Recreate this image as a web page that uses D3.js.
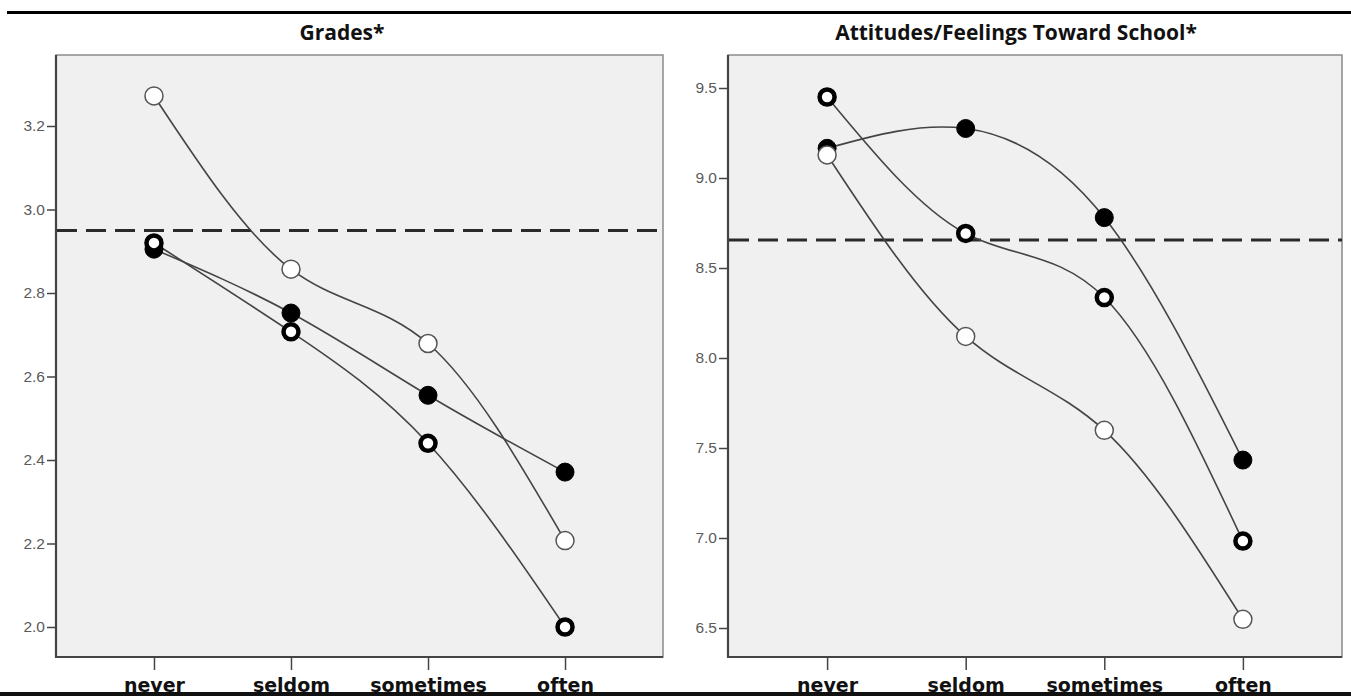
<!DOCTYPE html>
<html><head><meta charset="utf-8">
<script src="https://cdn.jsdelivr.net/npm/d3@7"></script>
<style>html,body{margin:0;padding:0;background:#fff;}svg{display:block;}</style>
</head><body>
<svg id="c" width="1351" height="696"></svg>
<script>
const categories = ["never", "seldom", "sometimes", "often"];

// Grades panel
const gradesFilled = [2.905, 2.752, 2.555, 2.371];
const gradesRing   = [2.920, 2.707, 2.440, 2.000];
const gradesOpen   = [3.272, 2.857, 2.679, 2.207];
const gradesRef    = 2.95;
const gradesTicks  = [2.0, 2.2, 2.4, 2.6, 2.8, 3.0, 3.2];

// Attitudes panel
const attFilled = [9.165, 9.275, 8.780, 7.433];
const attRing   = [9.450, 8.692, 8.336, 6.983];
const attOpen   = [9.128, 8.120, 7.598, 6.548];
const attRef    = 8.655;
const attTicks  = [6.5, 7.0, 7.5, 8.0, 8.5, 9.0, 9.5];

const titles = ["Grades*", "Attitudes/Feelings Toward School*"];

const svg = d3.select("#c");

// top rule
svg.append("line").attr("x1",7).attr("x2",1351).attr("y1",12.5).attr("y2",12.5).attr("stroke","#000").attr("stroke-width",3);

function panel(cfg){
  const {x0,x1,y0,y1,domain,yr,ticks,fmt,series,ref,title,titleX} = cfg;
  const g = svg.append("g");
  const x = d3.scalePoint().domain(categories).range([x0,x1]).padding(0.715);
  const y = d3.scaleLinear().domain(domain).range(yr);

  g.append("rect").attr("x",x0).attr("y",y0).attr("width",x1-x0).attr("height",y1-y0)
    .attr("fill","#f0f0f0").attr("stroke","#8a8a8a").attr("stroke-width",1.5);

  // y axis
  const ya = g.append("g").attr("transform",`translate(${x0},0)`)
    .call(d3.axisLeft(y).tickValues(ticks).tickFormat(d3.format(fmt)).tickSize(9).tickSizeOuter(0));
  ya.select(".domain").remove();
  ya.selectAll(".tick line").attr("stroke","#444").attr("stroke-width",1.5);
  ya.selectAll(".tick text").attr("font-family","Liberation Sans, Arial, sans-serif").attr("font-size",15.5)
    .attr("fill","#5a5a5a").attr("x",-11);

  // x axis
  const xa = g.append("g").attr("transform",`translate(0,${y1})`)
    .call(d3.axisBottom(x).tickSize(13).tickSizeOuter(0));
  xa.select(".domain").remove();
  xa.selectAll(".tick line").attr("stroke","#444").attr("stroke-width",1.5);
  xa.selectAll(".tick text").attr("font-family","DejaVu Sans, Verdana, sans-serif").attr("font-weight","bold")
    .attr("font-size",19).attr("fill","#111").attr("dy",0).attr("y",35);

  // axis lines (darker left & bottom)
  g.append("line").attr("x1",x0).attr("x2",x0).attr("y1",y0).attr("y2",y1+1).attr("stroke","#444").attr("stroke-width",2.2);
  g.append("line").attr("x1",x0).attr("x2",x1).attr("y1",y1).attr("y2",y1).attr("stroke","#444").attr("stroke-width",2.2);

  // reference line
  g.append("line").attr("x1",x0+1).attr("x2",x1).attr("y1",y(ref)).attr("y2",y(ref))
    .attr("stroke","#2a2a2a").attr("stroke-width",3).attr("stroke-dasharray","20,9");

  const line = d3.line().x((d,i)=>x(categories[i])).y(d=>y(d)).curve(d3.curveNatural);
  series.forEach(s=>{
    g.append("path").attr("d",line(s.values)).attr("fill","none").attr("stroke","#444").attr("stroke-width",1.6);
  });
  series.forEach(s=>{
    g.selectAll(null).data(s.values).enter().append("circle")
      .attr("cx",(d,i)=>x(categories[i])).attr("cy",d=>y(d))
      .attr("r",s.type==="ring"?7.5:9)
      .attr("fill",s.type==="filled"?"#000":"#fff")
      .attr("stroke",s.type==="open"?"#555":"#000")
      .attr("stroke-width",s.type==="ring"?4.5:(s.type==="open"?1.5:1));
  });

  svg.append("text").attr("x",titleX).attr("y",40).attr("text-anchor","middle")
    .attr("font-family","Open Sans, sans-serif").attr("font-weight","bold").attr("font-size",21)
    .attr("fill","#111").text(title);
}

panel({x0:56,x1:663,y0:55,y1:657,domain:[2.0,3.2],yr:[627,126],ticks:gradesTicks,fmt:".1f",
  series:[{type:"filled",values:gradesFilled},{type:"ring",values:gradesRing},{type:"open",values:gradesOpen}],
  ref:gradesRef,title:titles[0],titleX:342});
panel({x0:728,x1:1342,y0:55,y1:657,domain:[6.5,9.5],yr:[628,88],ticks:attTicks,fmt:".1f",
  series:[{type:"filled",values:attFilled},{type:"ring",values:attRing},{type:"open",values:attOpen}],
  ref:attRef,title:titles[1],titleX:1016});

// bottom rule
svg.append("rect").attr("x",0).attr("y",692).attr("width",1351).attr("height",4).attr("fill","#111");
</script>
</body></html>
